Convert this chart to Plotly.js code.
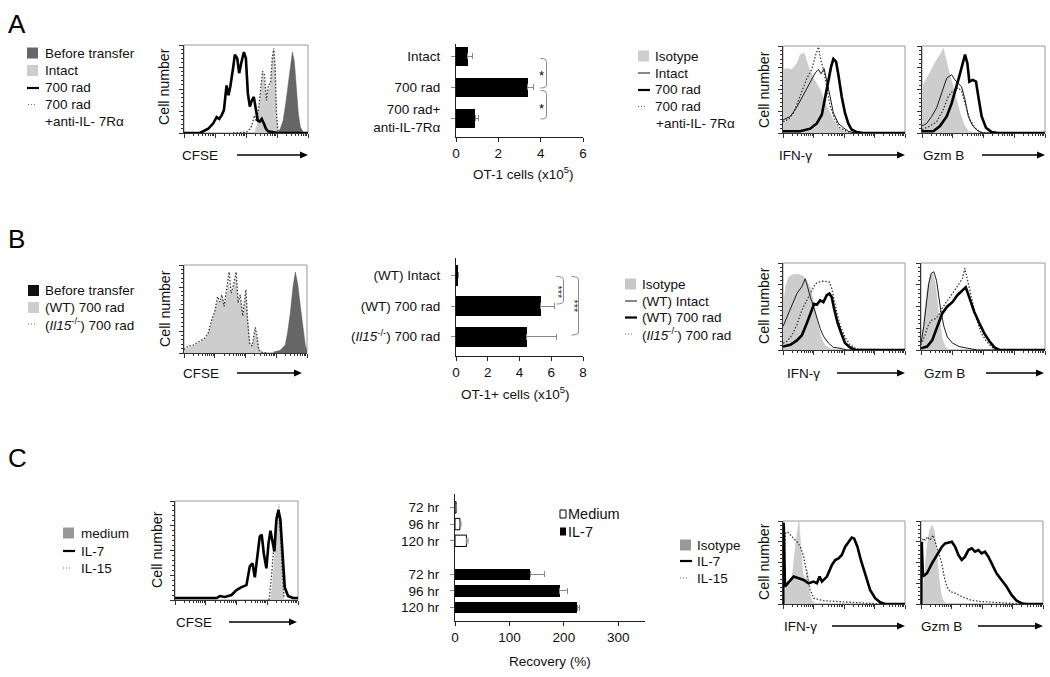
<!DOCTYPE html>
<html><head><meta charset="utf-8">
<script src="https://cdn.plot.ly/plotly-3.0.1.min.js"></script>
<style>body{margin:0;background:#fff}#chart{width:1050px;height:677px}</style>
</head><body><div id="chart"></div>
<script>
// ---------- DATA (histograms: x = log-channel 0..1000 over 4 decades, y = % of max) ----------
// Panel A, CFSE
const aCfseBeforeX=[719,759,777,799,820,839,858,874,890,906,922,938,960,987];
const aCfseBeforeY=[0,1,5,14,33,56,79,92,81,52,22,7,1,0];
const aCfseIntactX=[504,571,590,606,622,638,654,665,681,697,713,724,735,745,759,786];
const aCfseIntactY=[0,1,9,26,50,68,52,33,49,52,83,94,71,22,1,0];
const aCfse700X=[0,129,155,196,236,263,284,303,322,343,359,375,397,410,429,445,461,483,499,515,531,547,563,579,595,611,627,643,660,678,719,759,1000];
const aCfse700Y=[0,0,2,5,11,18,16,20,26,54,43,54,75,89,85,68,79,92,85,45,30,37,41,26,14,13,16,11,5,2,1,0,0];
const aCfseAntiX=[397,504,536,552,568,584,601,617,633,649,665,681,697,713,724,735,745,756,772];
const aCfseAntiY=[0,1,5,11,20,13,26,52,70,66,37,55,56,87,96,75,25,3,0];
// Panel A, IFN-g
const aIfnIsoX=[0,33,73,114,141,174,209,250,304,359,413,467,522,576];
const aIfnIsoY=[73,74,73,80,90,92,76,63,50,31,15,5,1,0];
const aIfnIntactX=[0,60,114,168,223,264,291,312,337,359,386,413,454,495,535,590,1000];
const aIfnIntactY=[15,19,30,44,59,69,73,68,74,61,42,23,11,6,2,0,0];
const aIfnAntiX=[0,46,87,141,196,236,264,291,310,332,359,386,427,467,522,576,1000];
const aIfnAntiY=[13,16,23,44,63,73,88,99,84,73,53,31,15,6,2,0,0];
const aIfn700X=[0,141,223,277,318,345,372,394,413,435,454,481,508,535,562,603,658,1000];
const aIfn700Y=[2,2,5,11,21,40,61,76,85,82,67,42,23,11,4,1,0,0];
// Panel A, Gzm B
const aGzmIsoX=[0,38,79,119,152,173,195,222,249,276,309,341,377,417];
const aGzmIsoY=[53,63,73,84,91,97,84,69,53,38,23,10,2,0];
const aGzmIntactX=[0,38,79,119,160,201,241,268,295,322,350,377,412,458,499,1000];
const aGzmIntactY=[8,11,19,29,46,63,67,61,57,53,38,19,8,2,0,0];
const aGzmAntiX=[0,65,119,173,214,255,295,322,350,390,431,472,520,1000];
const aGzmAntiY=[4,8,13,27,42,49,52,48,34,15,6,1,0,0];
const aGzm700X=[0,92,146,201,241,276,303,331,350,369,385,412,439,458,485,520,566,621,1000];
const aGzm700Y=[2,2,8,19,34,50,65,80,90,80,59,61,59,42,19,6,1,0,0];
// Panel B, CFSE
const bCfseBeforeX=[728,782,823,842,864,886,905,924,946,967,986,1000];
const bCfseBeforeY=[1,3,9,23,45,75,92,79,53,26,9,2];
const bCfseWtX=[0,76,130,185,226,253,272,293,315,337,359,380,402,424,443,462,484,503,522,538,560,579,598,614,647];
const bCfseWtY=[3,8,12,18,36,47,60,57,62,55,79,66,74,85,55,60,42,66,34,11,9,26,15,3,0];
const bCfseKoX=[0,35,76,130,171,198,226,253,272,293,307,326,348,367,383,402,424,440,457,478,503,516,533,554,579,592,606,625,674];
const bCfseKoY=[4,8,9,13,17,23,38,49,64,58,66,53,75,92,68,77,92,57,66,42,72,38,11,8,29,21,4,1,0];
// Panel B, IFN-g
const bIfnIsoX=[0,22,46,87,128,163,196,228,255,283,310,345,399,440];
const bIfnIsoY=[46,73,84,87,87,85,79,71,53,31,15,5,1,0];
const bIfnIntactX=[0,33,73,114,155,182,201,223,250,277,304,331,372,413,467,522,1000];
const bIfnIntactY=[27,38,52,65,73,82,73,61,50,36,25,16,8,3,2,0,0];
const bIfnKoX=[0,33,73,114,155,196,228,264,291,318,345,380,399,413,440,467,508,549,603,1000];
const bIfnKoY=[8,10,17,29,46,57,65,76,78,79,79,78,71,61,44,29,15,6,1,0];
const bIfnWtX=[0,60,114,155,196,228,255,277,304,331,359,380,399,418,446,473,508,549,590,1000];
const bIfnWtY=[4,6,11,17,31,42,53,52,57,55,63,65,61,48,32,21,8,3,0,0];
// Panel B, Gzm B
const bGzmIsoX=[0,27,49,71,90,111,130,152,171,198,239];
const bGzmIsoY=[4,38,69,84,88,80,61,34,13,3,0];
const bGzmIntactX=[0,22,43,62,82,103,125,144,163,185,212,253,307,375,456,1000];
const bGzmIntactY=[8,27,53,76,88,90,80,61,42,27,15,8,4,2,0,0];
const bGzmKoX=[0,27,54,82,117,144,171,212,253,293,334,353,375,402,443,481,522,565,606,1000];
const bGzmKoY=[6,15,27,34,36,40,48,57,65,73,82,94,80,61,38,21,11,4,0,0];
const bGzmWtX=[0,49,90,130,171,212,253,293,334,361,388,429,470,511,552,592,633,1000];
const bGzmWtY=[2,4,11,27,42,50,55,63,69,72,61,44,31,19,10,3,0,0];
// Panel C, CFSE
const cCfseMedX=[776,792,811,830,846,860,873,884];
const cCfseMedY=[0,17,47,81,97,64,20,1];
const cCfseIl7X=[0,338,365,405,459,500,541,581,608,630,649,667,689,705,722,743,760,776,792,808,824,841,857,873,892,919,959,1000];
const cCfseIl7Y=[2,2,4,3,5,10,13,15,34,37,23,40,64,66,47,32,57,70,60,49,81,91,81,44,13,4,2,2];
const cCfseIl15X=[765,784,803,824,841,857,873,887];
const cCfseIl15Y=[0,23,54,84,92,67,27,2];
// Panel C, IFN-g
const cIfnIsoX=[0,19,38,60,82,101,120,131,142,163,183,202,218,237,264];
const cIfnIsoY=[0,13,29,21,41,69,89,100,77,37,29,41,13,4,1];
const cIfnIl15X=[5,19,38,60,87,114,142,169,196,223,251,292,332,441,550,687,823,1000];
const cIfnIl15Y=[29,85,87,83,79,75,69,57,37,17,7,5,4,3,2,1,0,0];
const cIfnIl7X=[2,6,16,60,87,128,169,210,251,278,300,319,360,401,428,455,482,510,537,564,583,610,638,673,714,755,796,837,1000];
const cIfnIl7Y=[0,98,21,29,33,31,29,25,27,25,33,27,33,47,53,55,59,69,75,80,79,69,53,35,17,7,2,0,0];
// Panel C, Gzm B
const cGzmIsoX=[8,27,49,71,90,109,125,144,163,185,212];
const cGzmIsoY=[1,29,69,89,95,89,69,37,13,3,0];
const cGzmIl15X=[3,16,35,54,76,98,120,144,171,190,212,239,280,334,402,484,592,728,837,1000];
const cGzmIl15Y=[53,79,77,81,77,83,73,61,49,33,21,15,13,9,5,3,2,1,0,0];
const cGzmIl7X=[2,6,16,49,90,130,171,198,226,253,280,307,334,361,388,416,443,470,497,524,552,579,619,660,701,742,783,823,864,1000];
const cGzmIl7Y=[0,75,33,37,49,59,69,73,74,75,69,59,53,57,65,67,63,65,61,63,57,49,37,29,21,11,4,1,0,0];
// Bar charts
const aBarCats=['Intact','700 rad','700 rad+<br>anti-IL-7Rα'];
const aBarVals=[0.55,3.4,0.9];
const aBarErr=[0.22,0.28,0.15];
const bBarCats=['(WT) Intact','(WT) 700 rad','(<i>Il15</i><sup>-/-</sup>) 700 rad'];
const bBarVals=[0.15,5.35,4.45];
const bBarErr=[0,0.85,1.85];
const cAllCats=['Medium 72 hr','Medium 96 hr','Medium 120 hr','gap','IL-7 72 hr','IL-7 96 hr','IL-7 120 hr'];
const cMediumCats=['Medium 72 hr','Medium 96 hr','Medium 120 hr'];
const cIl7Cats=['IL-7 72 hr','IL-7 96 hr','IL-7 120 hr'];
const cTimeLabels=['72 hr','96 hr','120 hr'];
const cMediumVals=[2,9,21];
const cMediumErr=[1,2,3];
const cIl7Vals=[138,192,225];
const cIl7Err=[27,14,4];

// ---------- LAYOUT ----------
const W=1050,H=677;
const fx=p=>p/W, fy=p=>1-p/H;
const FONT='Arial, "Liberation Sans", sans-serif';
const layout={width:W,height:H,margin:{l:0,r:0,t:0,b:0},paper_bgcolor:'#fff',plot_bgcolor:'rgba(0,0,0,0)',
  showlegend:false,font:{family:FONT,size:13.5,color:'#111'},shapes:[],annotations:[],bargap:0};
const traces=[];
const minorLog=[];for(let d=0;d<4;d++)for(let k=2;k<10;k++)minorLog.push(250*(d+Math.log10(k)));
const sfx=n=>n===1?'':String(n);
const DOT='1.5px,1.8px';

function histAxes(n,l,r,t,b){
  const s=sfx(n);
  layout['xaxis'+s]={domain:[fx(l),fx(r)],range:[0,1000],anchor:'y'+s,showline:true,linecolor:'#333',linewidth:1,
    ticks:'outside',ticklen:4,tickcolor:'#333',tickmode:'array',tickvals:[0,250,500,750,1000],showticklabels:false,
    showgrid:false,zeroline:false,fixedrange:true,
    minor:{tickmode:'array',tickvals:minorLog,ticks:'outside',ticklen:2,tickcolor:'#333',showgrid:false}};
  layout['yaxis'+s]={domain:[fy(b),fy(t)],range:[0,100],anchor:'x'+s,showline:true,linecolor:'#333',linewidth:1,
    ticks:'outside',ticklen:4,tickcolor:'#333',tick0:0,dtick:25,showticklabels:false,showgrid:false,zeroline:false,fixedrange:true,
    minor:{tick0:0,dtick:5,ticks:'outside',ticklen:2,tickcolor:'#333',showgrid:false}};
  layout.shapes.push({type:'rect',layer:'below',xref:'x'+s+' domain',yref:'y'+s+' domain',x0:0,x1:1,y0:0,y1:1,line:{color:'#9a9a9a',width:1}});
}
function h(n,X,Y,kind){
  const s=sfx(n);
  const t={type:'scatter',mode:'lines',x:X,y:Y,xaxis:'x'+s,yaxis:'y'+s,hoverinfo:'skip'};
  if(kind==='light'){t.fill='tozeroy';t.fillcolor='#cdcdcd';t.line={color:'#c6c6c6',width:0.5};}
  else if(kind==='dark'){t.fill='tozeroy';t.fillcolor='#666666';t.line={color:'#5a5a5a',width:0.5};}
  else if(kind==='thin'){t.line={color:'#1a1a1a',width:1};}
  else if(kind==='thick'){t.line={color:'#000',width:2.6};}
  else if(kind==='dot'){t.line={color:'#3a3a3a',width:1.3,dash:DOT};}
  traces.push(t);
}
function ann(text,x,y,o){
  layout.annotations.push(Object.assign({text:text,x:fx(x),y:fy(y),xref:'paper',yref:'paper',showarrow:false,
    xanchor:'left',yanchor:'middle',font:{family:FONT,size:13.5,color:'#111'}},o||{}));
}
function arrow(x0,x1,y){
  const p=(x,yy)=>fx(x)+','+fy(yy);
  layout.shapes.push({type:'line',xref:'paper',yref:'paper',x0:fx(x0),x1:fx(x1-5),y0:fy(y),y1:fy(y),line:{color:'#000',width:1.6}});
  layout.shapes.push({type:'path',xref:'paper',yref:'paper',path:'M'+p(x1,y)+' L'+p(x1-8,y-3.5)+' L'+p(x1-8,y+3.5)+' Z',fillcolor:'#000',line:{width:0}});
}
function legItem(kind,sx,tx,y,text,col,sz){
  const w=sz?sz[0]:11, hh=sz?sz[1]:11;
  if(kind==='sq') layout.shapes.push({type:'rect',xref:'paper',yref:'paper',x0:fx(sx),x1:fx(sx+w),y0:fy(y+hh/2),y1:fy(y-hh/2),fillcolor:col,line:{width:col==='#fff'?1:0,color:'#000'}});
  else if(kind==='thin') layout.shapes.push({type:'line',xref:'paper',yref:'paper',x0:fx(sx),x1:fx(sx+12),y0:fy(y),y1:fy(y),line:{color:'#111',width:1}});
  else if(kind==='thick') layout.shapes.push({type:'line',xref:'paper',yref:'paper',x0:fx(sx),x1:fx(sx+12),y0:fy(y),y1:fy(y),line:{color:'#000',width:2.2}});
  else if(kind==='dot') layout.shapes.push({type:'line',xref:'paper',yref:'paper',x0:fx(sx),x1:fx(sx+7),y0:fy(y),y1:fy(y),line:{color:'#666',width:1.2,dash:'1px,2px'}});
  if(text) ann(text,tx,y,sz?{font:{family:FONT,size:14.5,color:'#111'}}:undefined);
}
function bracket(xt,xs,yt,yb){
  const r=3;
  const p=(x,y)=>fx(x)+','+fy(y);
  const path='M'+p(xt,yt)+' Q'+p(xs,yt)+' '+p(xs,yt+r)+' L'+p(xs,yb-r)+' Q'+p(xs,yb)+' '+p(xt,yb);
  layout.shapes.push({type:'path',xref:'paper',yref:'paper',path:path,line:{color:'#8a8a8a',width:1}});
}

// ---- histogram subplots ----
histAxes(1,184,308,45,133);
histAxes(3,783,905,46,133);
histAxes(4,922,1045,46,133);
histAxes(5,184,307,265,353);
histAxes(7,783,905,263,350);
histAxes(8,921,1045,263,350);
histAxes(9,175,298,501,600);
histAxes(11,783,905,521,604);
histAxes(12,921,1043,521,604);

h(1,aCfseBeforeX,aCfseBeforeY,'dark');
h(1,aCfseIntactX,aCfseIntactY,'light');
h(1,aCfseAntiX,aCfseAntiY,'dot');
h(1,aCfse700X,aCfse700Y,'thick');

h(3,aIfnIsoX,aIfnIsoY,'light');
h(3,aIfnAntiX,aIfnAntiY,'dot');
h(3,aIfnIntactX,aIfnIntactY,'thin');
h(3,aIfn700X,aIfn700Y,'thick');

h(4,aGzmIsoX,aGzmIsoY,'light');
h(4,aGzmAntiX,aGzmAntiY,'dot');
h(4,aGzmIntactX,aGzmIntactY,'thin');
h(4,aGzm700X,aGzm700Y,'thick');

h(5,bCfseBeforeX,bCfseBeforeY,'dark');
h(5,bCfseWtX,bCfseWtY,'light');
h(5,bCfseKoX,bCfseKoY,'dot');

h(7,bIfnIsoX,bIfnIsoY,'light');
h(7,bIfnKoX,bIfnKoY,'dot');
h(7,bIfnIntactX,bIfnIntactY,'thin');
h(7,bIfnWtX,bIfnWtY,'thick');

h(8,bGzmIsoX,bGzmIsoY,'light');
h(8,bGzmKoX,bGzmKoY,'dot');
h(8,bGzmIntactX,bGzmIntactY,'thin');
h(8,bGzmWtX,bGzmWtY,'thick');

h(9,cCfseMedX,cCfseMedY,'light');
h(9,cCfseIl15X,cCfseIl15Y,'dot');
h(9,cCfseIl7X,cCfseIl7Y,'thick');

h(11,cIfnIsoX,cIfnIsoY,'light');
h(11,cIfnIl15X,cIfnIl15Y,'dot');
h(11,cIfnIl7X,cIfnIl7Y,'thick');

h(12,cGzmIsoX,cGzmIsoY,'light');
h(12,cGzmIl15X,cGzmIl15Y,'dot');
h(12,cGzmIl7X,cGzmIl7Y,'thick');

// ---- bar subplots ----
function barAxes(n,l,r,t,b,xr,dt,yr,ycats){
  const s=sfx(n);
  layout['xaxis'+s]={domain:[fx(l),fx(r)],range:xr,anchor:'y'+s,showline:true,linecolor:'#222',linewidth:1,
    ticks:'outside',ticklen:4,tickcolor:'#222',tick0:0,dtick:dt,showgrid:false,zeroline:false,fixedrange:true,
    tickfont:{family:FONT,size:13.5,color:'#111'}};
  layout['yaxis'+s]=Object.assign({domain:[fy(b),fy(t)],type:'category',range:yr,anchor:'x'+s,showline:true,linecolor:'#222',linewidth:1,
    ticks:'outside',ticklen:4,tickcolor:'#888',showgrid:false,zeroline:false,fixedrange:true,ticklabelstandoff:8,
    tickfont:{family:FONT,size:13.5,color:'#111'}},ycats||{});
}
barAxes(2,456,583,44,137,[0,6],2,[2.6,-0.4]);
barAxes(6,456,583,258,356,[0,8],2,[2.63,-0.57]);
barAxes(10,455,645,494,621,[0,349],100,[6.8,-0.8],
  {categoryorder:'array',categoryarray:cAllCats,tickmode:'array',tickvals:cMediumCats.concat(cIl7Cats),ticktext:cTimeLabels.concat(cTimeLabels)});

const eb=(arr)=>({type:'data',array:arr,arrayminus:arr.map(()=>0),symmetric:false,color:'#888',thickness:1,width:3});
traces.push({type:'bar',orientation:'h',x:aBarVals,y:aBarCats,xaxis:'x2',yaxis:'y2',width:0.62,marker:{color:'#000'},error_x:eb(aBarErr),hoverinfo:'skip'});
traces.push({type:'bar',orientation:'h',x:bBarVals,y:bBarCats,xaxis:'x6',yaxis:'y6',width:0.66,marker:{color:'#000'},error_x:eb(bBarErr),hoverinfo:'skip'});
traces.push({type:'bar',orientation:'h',x:cMediumVals,y:cMediumCats,xaxis:'x10',yaxis:'y10',width:0.68,marker:{color:'#fff',line:{color:'#000',width:1}},error_x:eb(cMediumErr),hoverinfo:'skip'});
traces.push({type:'bar',orientation:'h',x:cIl7Vals,y:cIl7Cats,xaxis:'x10',yaxis:'y10',width:0.68,marker:{color:'#000'},error_x:eb(cIl7Err),hoverinfo:'skip'});

// ---- panel letters ----
ann('A',6,24,{font:{family:FONT,size:26,color:'#000'}});
ann('B',6,239,{font:{family:FONT,size:26,color:'#000'}});
ann('C',6,458,{font:{family:FONT,size:26,color:'#000'}});

// ---- histogram axis labels ----
const cellNum=(x,y)=>ann('Cell number',x,y,{textangle:-90,xanchor:'center',font:{family:FONT,size:14.2,color:'#111'}});
cellNum(164,87); cellNum(764,90);
cellNum(165,309); cellNum(764,306);
cellNum(157,550); cellNum(764,562);
ann('CFSE',180,155); arrow(237,308,155);
ann('IFN-γ',777,155); arrow(828,905,155);
ann('Gzm B',921,155); arrow(982,1045,155);
ann('CFSE',181,373); arrow(237,302,373);
ann('IFN-γ',785,373); arrow(837,905,373);
ann('Gzm B',922,373); arrow(986,1044,373);
ann('CFSE',174,622); arrow(229,297,622);
ann('IFN-γ',782,626); arrow(832,905,626);
ann('Gzm B',919,626); arrow(978,1043,626);

// ---- legends ----
legItem('sq',27,43,53,'Before transfer','#666');
legItem('sq',27,43,70.5,'Intact','#cdcdcd');
legItem('thick',27,43,88,'700 rad');
legItem('dot',28,43,104.5,'700 rad');
ann('+anti-IL- 7Rα',43,121);

legItem('sq',638,653,56,'Isotype','#cdcdcd');
legItem('thin',638,653,73,'Intact');
legItem('thick',638,653,90,'700 rad');
legItem('dot',638,653,106.5,'700 rad');
ann('+anti-IL- 7Rα',654,123);

legItem('sq',28,43,290.5,'Before transfer','#111');
legItem('sq',28,43,307.5,'(WT) 700 rad','#cdcdcd');
legItem('dot',28,43,324,'(<i>Il15</i><sup>-/-</sup>) 700 rad');

legItem('sq',625,640,284,'Isotype','#c8c8c8');
legItem('thin',625,640,301,'(WT) Intact');
legItem('thick',625,640,317.5,'(WT) 700 rad');
legItem('dot',625,640,334,'(<i>Il15</i><sup>-/-</sup>) 700 rad');

legItem('sq',63,79,533,'medium','#999');
legItem('thick',63,79,551,'IL-7');
legItem('dot',63,79,568,'IL-15');

legItem('sq',680,695,545,'Isotype','#999');
legItem('thick',680,695,561,'IL-7');
legItem('dot',680,695,578,'IL-15');

legItem('sq',560,566,514,'Medium','#fff',[6,8]);
legItem('sq',560,566,531.5,'IL-7','#000',[6,8]);

// ---- bar axis titles ----
ann('OT-1 cells (x10<sup>5</sup>)',523,173,{xanchor:'center'});
ann('OT-1+ cells (x10<sup>5</sup>)',515,393,{xanchor:'center'});
ann('Recovery (%)',550,661,{xanchor:'center'});

// ---- significance brackets ----
bracket(540.5,546.5,58.5,88);
bracket(540.5,546.5,90.5,119);
ann('*',541.5,76,{xanchor:'center',font:{family:FONT,size:13,color:'#000'}});
ann('*',541.5,108,{xanchor:'center',font:{family:FONT,size:13,color:'#000'}});
bracket(556.5,563.5,276.5,304);
bracket(571.5,578.5,276.5,335);
ann('***',558,292.5,{xanchor:'center',textangle:90,font:{family:FONT,size:11,color:'#333'}});
ann('***',573.5,306,{xanchor:'center',textangle:90,font:{family:FONT,size:11,color:'#333'}});

Plotly.newPlot('chart',traces,layout,{staticPlot:true});
</script></body></html>
